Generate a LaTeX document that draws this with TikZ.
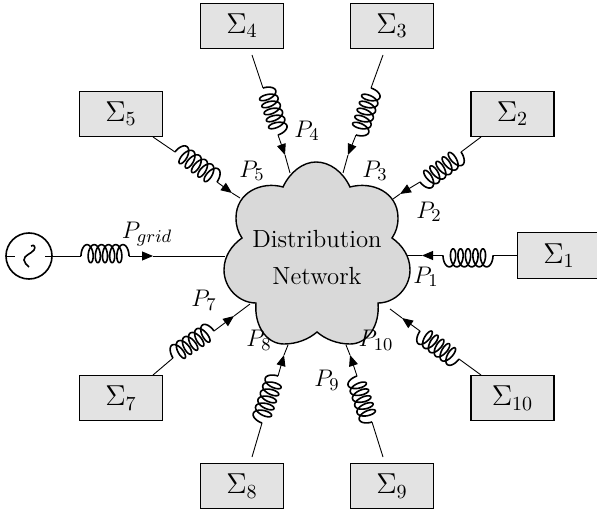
\documentclass[tikz,border=0pt]{standalone}
\usetikzlibrary{arrows.meta,calc}
\tikzset{
  sysbox/.style={draw=black,fill=black!11,line width=0.65pt,minimum width=41.5pt,minimum height=22.8pt,inner sep=0pt,font=\fontsize{13.8}{16}\selectfont},
  wire/.style={line width=0.45pt},
  feed/.style={line width=0.45pt,-{Triangle[length=5.5pt,width=4.5pt]}},
  inductor/.style={line width=0.8pt,line join=round},
  plabel/.style={inner sep=0pt}
}
\newcommand{\feeder}[6]{%
  \coordinate (#1a) at (#2); \coordinate (#1b) at (#3); \coordinate (#1c) at (#4);
  \coordinate (#1d) at (#5); \coordinate (#1e) at (#6);
  \draw[wire] (#1a) -- (#1b);
  \path let \p1=($(#1c)-(#1b)$), \n1={atan2(\y1,\x1)}, \n2={veclen(\x1,\y1)/24.4} in
    [shift={(#1b)},rotate=\n1]
    \pgfextra{\xdef\coilang{\n1}\xdef\coilscale{\n2}};
  \begin{scope}[shift={(#1b)},rotate=\coilang]
    \draw[inductor,samples=240,domain=-105:1905,variable=\t]
      plot ({\coilscale*(0.58*\t*0.0174533+2.1*sin(\t)+3.09)*1pt},{(4.5*cos(\t)+1.165)*1pt});
  \end{scope}
  \draw[feed] (#1c) -- (#1d);
  \draw[wire] (#1d) -- (#1e);
}
\begin{document}
\fontsize{12.4}{18.5}\selectfont
\begin{tikzpicture}[x=0.5pt,y=-0.5pt]
\useasboundingbox (0,0) rectangle (597,512);
\node[sysbox] (s1) at (559,255.5) {$\Sigma_1$};
\node[sysbox] (s2) at (512.5,114) {$\Sigma_2$};
\node[sysbox] (s3) at (392,26) {$\Sigma_3$};
\node[sysbox] (s4) at (242,26) {$\Sigma_4$};
\node[sysbox] (s5) at (121,114) {$\Sigma_5$};
\node[sysbox] (s7) at (121,398) {$\Sigma_7$};
\node[sysbox] (s8) at (242,486) {$\Sigma_8$};
\node[sysbox] (s9) at (392,486) {$\Sigma_9$};
\node[sysbox] (s10) at (512.5,398) {$\Sigma_{10}$};
\feeder{fa}{s1.west}{493,255.5}{443,255.5}{422,255.5}{407,255.5}
\feeder{fb}{481,137}{461,152}{420,182}{400,194}{393,199}
\feeder{fc}{383,55}{371,88}{356,135}{348,155}{343,173}
\feeder{fd}{252,55}{263,88}{278,135}{285,155}{290,173}
\feeder{fe}{153,137}{175,152}{217,182}{232,193}{240,198}
\feeder{ff}{153,375}{173,358}{214,331}{234,316}{250,304}
\feeder{fg}{252,457}{262,423}{278,376}{284,355}{288,345}
\feeder{fh}{383,457}{372,422}{357,376}{350,355}{346,345}
\feeder{fi}{481,375}{459,359}{420,331}{402,318}{390,309}
% source
\node[draw,circle,line width=0.8pt,minimum size=23pt,inner sep=0pt] (src) at (29,256) {};
\draw[wire] (7,256) -- (15,256);
\draw[wire] (45,256) -- (src.east);
\feeder{fj}{src.east}{81,256}{129,256}{153,256}{225,256}
\draw[line width=0.8pt] (31,246) .. controls (34,244) and (36,247) .. (34,250) .. controls (31,254) and (24,255) .. (24,260) .. controls (24,263) and (27,265) .. (29,267);
% cloud
\draw[fill=black!15,line width=0.7pt] (283,187)
  .. controls (290,172) and (303,162) .. (316,162)
  .. controls (330,162) and (343,172) .. (350,187)
  .. controls (372,181) and (398,192) .. (398,218)
  .. controls (398,226) and (396,232) .. (392,238)
  .. controls (402,245) and (410,256) .. (410,270)
  .. controls (410,288) and (395,303) .. (378,303)
  .. controls (380,325) and (368,344) .. (350,344)
  .. controls (337,344) and (325,339) .. (317,332)
  .. controls (309,339) and (297,344) .. (284,344)
  .. controls (266,344) and (254,325) .. (256,303)
  .. controls (239,303) and (224,288) .. (224,270)
  .. controls (224,256) and (232,245) .. (242,238)
  .. controls (238,232) and (236,226) .. (236,218)
  .. controls (236,192) and (262,181) .. (283,187) -- cycle;
\node[align=center,inner sep=0pt] (net) at (317,258) {Distribution\\Network};
\node[plabel] (p1) at (426,277) {$P_1$};
\node[plabel] (p2) at (429,212) {$P_2$};
\node[plabel] (p3) at (375,171) {$P_3$};
\node[plabel] (p4) at (307,131) {$P_4$};
\node[plabel] (p5) at (252,171) {$P_5$};
\node[plabel] (p7) at (204,300) {$P_7$};
\node[plabel] (p8) at (259,340) {$P_8$};
\node[plabel] (p9) at (327,380) {$P_9$};
\node[plabel] (p10) at (376,340) {$P_{10}$};
\node[plabel] (pg) at (147,234) {$P_{grid}$};
\end{tikzpicture}
\end{document}
